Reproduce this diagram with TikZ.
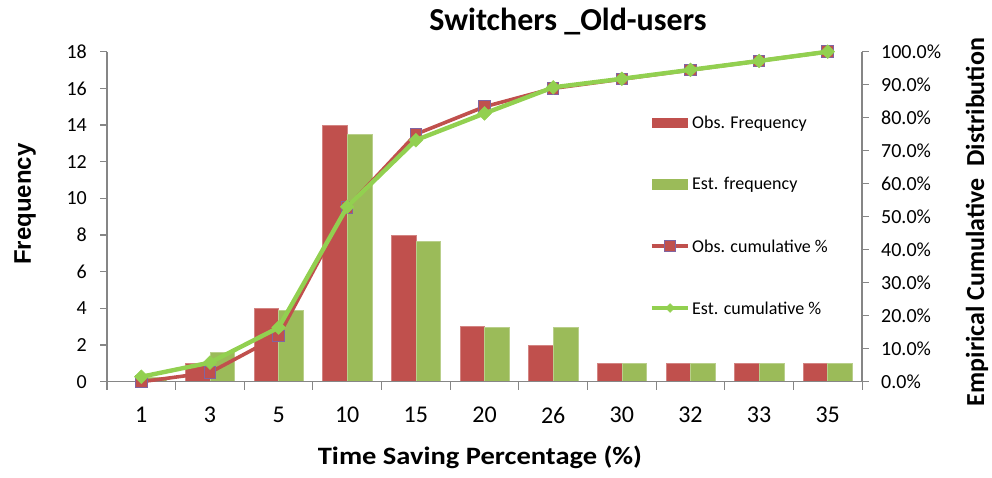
\documentclass[tikz,border=0pt]{standalone}
\usepackage{fontspec}
\setmainfont{Carlito}
\newfontfamily\arialfont{Liberation Sans}
\usetikzlibrary{shapes.geometric}

\definecolor{obsred}{HTML}{C0504D}
\definecolor{estgreen}{HTML}{9BBB59}
\definecolor{linegreen}{HTML}{92D050}
\definecolor{mkpurple}{HTML}{8064A2}
\definecolor{axisgray}{HTML}{868686}

\tikzset{
  axisline/.style={draw=axisgray, line width=1.1pt},
  ticklabel/.style={font=\fontsize{20}{24}\selectfont, inner sep=0pt},
  catlabel/.style={font=\fontsize{24}{28}\selectfont, inner sep=0pt},
  legendtext/.style={font=\fontsize{18}{22}\selectfont, anchor=west, inner sep=0pt},
  obsbar/.style={fill=obsred, draw=obsred!70!white, line width=0.5pt},
  estbar/.style={fill=estgreen, draw=estgreen!70!white, line width=0.5pt},
  obsline/.style={draw=obsred, line width=3.6pt, line join=round},
  estline/.style={draw=linegreen, line width=4.4pt, line join=round},
  sqmark/.style={rectangle, fill=obsred, draw=mkpurple, line width=1pt,
    minimum size=11.5pt, inner sep=0pt},
  dmmark/.style={diamond, fill=linegreen, draw=linegreen, line width=0.5pt,
    minimum size=14pt, inner sep=0pt},
}

% horizontal centre of category #1 (0..10), and vertical positions
\newcommand\catx[1]{107+68.64*(#1+0.5)}
\newcommand\fy[1]{381.7-18.333*(#1)}
\newcommand\py[1]{381.7-3.3*(#1)}

\begin{document}
\begin{tikzpicture}[x=1pt, y=-1pt]
\useasboundingbox (0,0) rectangle (992,478);

% bars
\foreach \i/\o/\e in {0/0/0.25, 1/1/1.6, 2/4/3.9, 3/14/13.5, 4/8/7.64,
                      5/3/2.95, 6/2/2.97, 7/1/1, 8/1/1, 9/1/1, 10/1/1} {
  \ifdim \o pt>0pt
    \fill[obsbar] ({\catx{\i}-24.7}, {\fy{0}}) rectangle ({\catx{\i}}, {\fy{\o}});
  \fi
  \fill[estbar] ({\catx{\i}}, {\fy{0}}) rectangle ({\catx{\i}+24.7}, {\fy{\e}});
}

% axes
\coordinate (ltop) at (107,51.7);
\coordinate (lbot) at (107,381.7);
\coordinate (rtop) at (862,51.7);
\coordinate (rbot) at (862,381.7);
\draw[axisline] (ltop) -- (lbot) -- (rbot) -- (rtop);
\foreach \v in {0,2,...,18} {
  \draw[axisline] (100,{\fy{\v}}) -- (107,{\fy{\v}});
  \node[ticklabel, anchor=east] (yl\v) at (87,{\fy{\v}}) {\v};
}
\foreach \p in {0,10,...,100} {
  \draw[axisline] (862,{\py{\p}}) -- (869,{\py{\p}});
  \node[ticklabel, anchor=west] (yr\p) at (881,{\py{\p}}) {\p.0\%};
}
\foreach \k in {0,...,11} {
  \draw[axisline] ({107+68.64*\k},381.7) -- ({107+68.64*\k},389.5);
}
\foreach \i/\lab in {0/1, 1/3, 2/5, 3/10, 4/15, 5/20, 6/26, 7/30, 8/32, 9/33, 10/35} {
  \node[catlabel] (xl\i) at ({\catx{\i}},415) {\lab};
}

% cumulative curves
\foreach \i/\oc/\ec in {0/0/1.5, 1/2.78/5.8, 2/13.89/16.4, 3/52.78/53, 4/75/73.2,
                        5/83.33/81.3, 6/88.89/89.2, 7/91.67/91.8, 8/94.44/94.5,
                        9/97.22/97.2, 10/100/100} {
  \coordinate (o\i) at ({\catx{\i}},{\py{\oc}});
  \coordinate (e\i) at ({\catx{\i}},{\py{\ec}});
}
\draw[obsline] (o0) \foreach \i in {1,...,10} { -- (o\i) };
\foreach \i in {0,...,10} { \node[sqmark] (mo\i) at (o\i) {}; }
\draw[estline] (e0) \foreach \i in {1,...,10} { -- (e\i) };
\foreach \i in {0,...,10} { \node[dmmark] (me\i) at (e\i) {}; }

% legend
\node[fill=obsred, minimum width=36.6pt, minimum height=10.3pt, inner sep=0pt] (lg1) at (670,123.2) {};
\node[legendtext] (lt1) at (692,123.5) {Obs. Frequency};
\node[fill=estgreen, minimum width=36.6pt, minimum height=10.3pt, inner sep=0pt] (lg2) at (670,184.5) {};
\node[legendtext] (lt2) at (692,184.5) {Est. frequency};
\coordinate (la3) at (651.7,246);
\coordinate (lb3) at (688.3,246);
\draw[draw=obsred, line width=3.6pt] (la3) -- (lb3);
\node[sqmark, minimum size=11pt] (lm3) at (670,246) {};
\node[legendtext] (lt3) at (692,246) {Obs. cumulative \%};
\coordinate (la4) at (651.7,308);
\coordinate (lb4) at (688.3,308);
\draw[draw=linegreen, line width=3.6pt] (la4) -- (lb4);
\node[dmmark, minimum size=9pt] (lm4) at (670,308) {};
\node[legendtext] (lt4) at (692,308) {Est. cumulative \%};

% titles
\node[font=\bfseries\fontsize{32}{38}\selectfont, inner sep=0pt] (title) at (568,22) {Switchers \_Old-users};
\node[font=\bfseries\fontsize{25}{30}\selectfont, inner sep=0pt, anchor=base, xscale=1.14] (xtitle) at (480,464) {Time Saving Percentage (\%)};
\node[font=\arialfont\bfseries\fontsize{24}{28}\selectfont, inner sep=0pt, rotate=90] (ytitle) at (25,204) {Frequency};
\node[font=\bfseries\fontsize{26}{30}\selectfont, inner sep=0pt, rotate=90, anchor=base] (y2title) at (984,222) {Empirical Cumulative \ Distribution};
\end{tikzpicture}
\end{document}
